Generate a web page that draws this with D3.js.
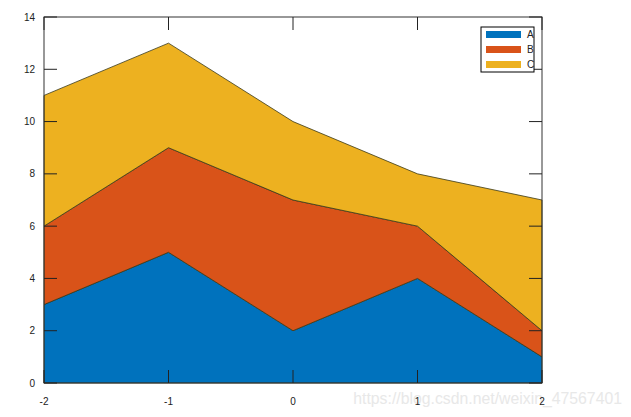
<!DOCTYPE html>
<html>
<head>
<meta charset="utf-8">
<style>
  body { margin: 0; background: #fff; }
  svg text { font-family: Arial, "Liberation Sans", sans-serif; }
</style>
</head>
<body>
<svg id="chart" width="631" height="417"></svg>
<script src="https://cdn.jsdelivr.net/npm/d3@7"></script>
<script>
// data
const xs = [-2, -1, 0, 1, 2];
const seriesNames = ["A", "B", "C"];
const valsA = [3, 5, 2, 4, 1];
const valsB = [3, 4, 5, 2, 1];
const valsC = [5, 4, 3, 2, 5];
const xTicks = [-2, -1, 0, 1, 2];
const yTicks = [0, 2, 4, 6, 8, 10, 12, 14];
const colors = ["#0072BD", "#D95319", "#EDB120"];

const rows = xs.map((x, i) => ({ x: x, A: valsA[i], B: valsB[i], C: valsC[i] }));

// plot box edges
const pl = 44, pr = 542, pt = 17, pb = 383;
const svg = d3.select("#chart");

const x = d3.scaleLinear().domain([-2, 2]).range([pl, pr]);
const y = d3.scaleLinear().domain([0, 14]).range([pb, pt]);

// watermark behind everything
svg.append("text")
  .attr("x", 622).attr("y", 404)
  .attr("text-anchor", "end")
  .attr("font-size", 15.8)
  .attr("fill", "#e8e8e8")
  .text("https://blog.csdn.net/weixin_47567401");

const stacked = d3.stack().keys(seriesNames)(rows);

const area = d3.area()
  .x(d => x(d.data.x))
  .y0(d => y(d[0]))
  .y1(d => y(d[1]));

svg.append("g").selectAll("path")
  .data(stacked)
  .enter().append("path")
    .attr("d", area)
    .attr("fill", (d, i) => colors[i])
    .attr("stroke", "#3a3a1a")
    .attr("stroke-width", 0.8);

// box
svg.append("rect")
  .attr("x", pl).attr("y", pt)
  .attr("width", pr - pl).attr("height", pb - pt)
  .attr("fill", "none").attr("stroke", "#333").attr("stroke-width", 1);

const tickLen = 13;

// y ticks left / right
const gy = svg.append("g");
yTicks.forEach(t => {
  gy.append("line").attr("x1", pl).attr("x2", pl + tickLen)
    .attr("y1", y(t)).attr("y2", y(t)).attr("stroke", "#222");
  gy.append("line").attr("x1", pr).attr("x2", pr - tickLen)
    .attr("y1", y(t)).attr("y2", y(t)).attr("stroke", "#222");
  gy.append("text").attr("x", 35).attr("y", y(t) + 3.5)
    .attr("text-anchor", "end").attr("font-size", 10).attr("fill", "#222")
    .text(t);
});

// x ticks bottom / top
const gx = svg.append("g");
xTicks.forEach(t => {
  gx.append("line").attr("x1", x(t)).attr("x2", x(t))
    .attr("y1", pb).attr("y2", pb - tickLen).attr("stroke", "#222");
  gx.append("line").attr("x1", x(t)).attr("x2", x(t))
    .attr("y1", pt).attr("y2", pt + tickLen).attr("stroke", "#222");
  gx.append("text").attr("x", x(t)).attr("y", 405)
    .attr("text-anchor", "middle").attr("font-size", 10).attr("fill", "#222")
    .text(t);
});

// legend
const lg = svg.append("g");
lg.append("rect")
  .attr("x", 481).attr("y", 27).attr("width", 53).attr("height", 45)
  .attr("fill", "#fff").attr("stroke", "#000").attr("stroke-width", 1);
seriesNames.forEach((name, i) => {
  const cy = 34.5 + i * 15;
  lg.append("rect").attr("x", 486).attr("y", cy - 3.5)
    .attr("width", 35).attr("height", 7).attr("fill", colors[i]);
  lg.append("text").attr("x", 527).attr("y", cy + 3.5)
    .attr("font-size", 10).attr("fill", "#222").text(name);
});
</script>
</body>
</html>
